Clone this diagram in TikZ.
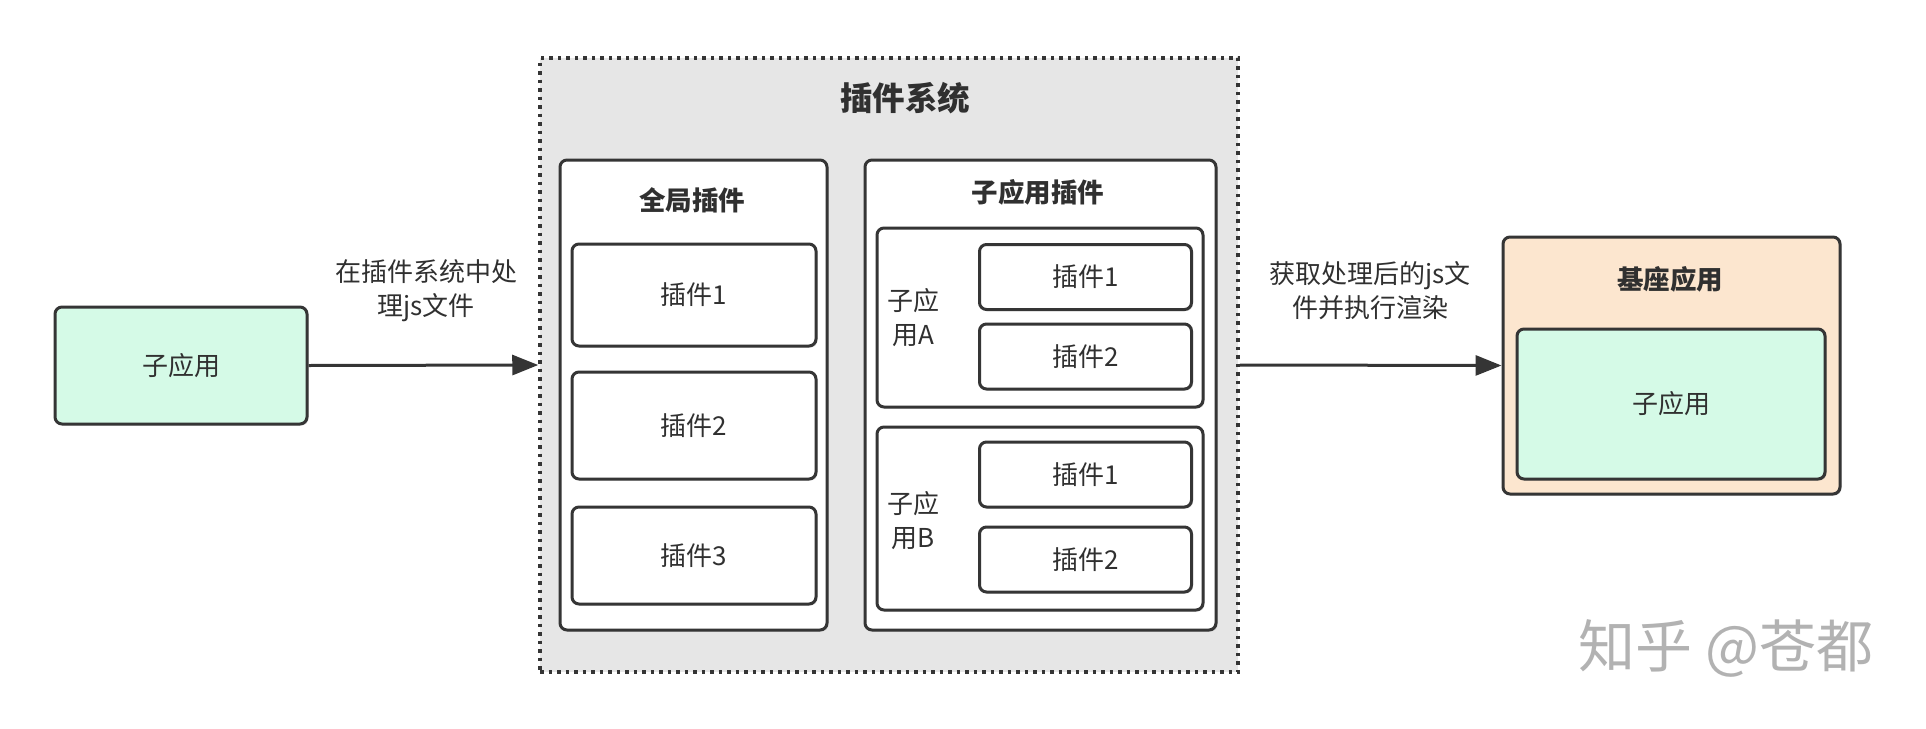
\documentclass[tikz,border=0pt]{standalone}
\usepackage{fontspec}
\setmainfont{Noto Sans CJK SC}
\usetikzlibrary{arrows.meta,shadows}

\definecolor{linegray}{HTML}{353535}
\definecolor{textgray}{HTML}{303030}
\definecolor{appgreen}{HTML}{D5FAE7}
\definecolor{basepeach}{HTML}{FCE6CF}
\definecolor{sysgray}{HTML}{E6E6E6}

\tikzset{
  box/.style={draw=linegray, line width=3pt, rounded corners=7pt, fill=white,
    drop shadow={shadow xshift=1.5pt, shadow yshift=-1.5pt, opacity=0.25},
    inner sep=0pt},
  txt/.style={text=textgray, font=\fontsize{26}{34}\selectfont, align=center},
  head/.style={text=textgray, font=\bfseries\fontsize{26.5}{34}\selectfont},
  flow/.style={draw=linegray, line width=3pt, -{Triangle[length=26pt,width=20pt]}},
}

\begin{document}
\begin{tikzpicture}[x=1pt, y=-1pt]
  \useasboundingbox (0, 0) rectangle (1926, 728);
  % left app
  \node [box, fill=appgreen, minimum width=252, minimum height=117, txt] (app) at (181, 365.5) {子应用};
  % plugin system
  \node [draw=linegray, line width=3.5pt, dash pattern=on 3.5pt off 5pt, fill=sysgray,
         minimum width=698, minimum height=614] (sys) at (889, 365) {};
  \node [text=textgray, font=\bfseries\fontsize{32.5}{40}\selectfont] (systitle) at (905, 98) {插件系统};
  % global plugins
  \node [box, minimum width=267, minimum height=470] (global) at (693.5, 395) {};
  \node [head] (globaltitle) at (692, 200) {全局插件};
  \node [box, minimum width=244, minimum height=102, txt] (g1) at (694, 295) {插件1};
  \node [box, minimum width=244, minimum height=107, txt] (g2) at (694, 425.5) {插件2};
  \node [box, minimum width=244, minimum height=97, txt] (g3) at (694, 555.5) {插件3};
  % sub app plugins
  \node [box, minimum width=351, minimum height=470] (sub) at (1040.5, 395) {};
  \node [head] (subtitle) at (1038, 192) {子应用插件};
  \node [box, minimum width=326, minimum height=179] (suba) at (1040, 317.5) {};
  \node [txt] (subalabel) at (913, 318) {子应\\用A};
  \node [box, minimum width=212, minimum height=65, txt] (a1) at (1085.5, 277) {插件1};
  \node [box, minimum width=212, minimum height=65, txt] (a2) at (1085.5, 356.5) {插件2};
  \node [box, minimum width=326, minimum height=183] (subb) at (1040, 518.5) {};
  \node [txt] (subblabel) at (913, 521) {子应\\用B};
  \node [box, minimum width=212, minimum height=65, txt] (b1) at (1085.5, 474.5) {插件1};
  \node [box, minimum width=212, minimum height=65, txt] (b2) at (1085.5, 559.5) {插件2};
  % base app
  \node [box, fill=basepeach, minimum width=337, minimum height=257] (base) at (1671.5, 365.5) {};
  \node [head] (basetitle) at (1670, 279) {基座应用};
  \node [box, fill=appgreen, minimum width=308, minimum height=150, txt] (inner) at (1671, 404) {子应用};
  % flows
  \draw [flow] (app.east) -- (sys.west);
  \node [txt] (lbl1) at (426, 291) {在插件系统中处\\理js文件};
  \draw [flow] (sys.east) -- (base.west);
  \node [txt] (lbl2) at (1370, 291) {获取处理后的js文\\件并执行渲染};
  % watermark
  \node [text=black!30, font=\fontsize{57}{62}\selectfont] (mark) at (1726, 648) {知乎 @苍都};
\end{tikzpicture}
\end{document}
